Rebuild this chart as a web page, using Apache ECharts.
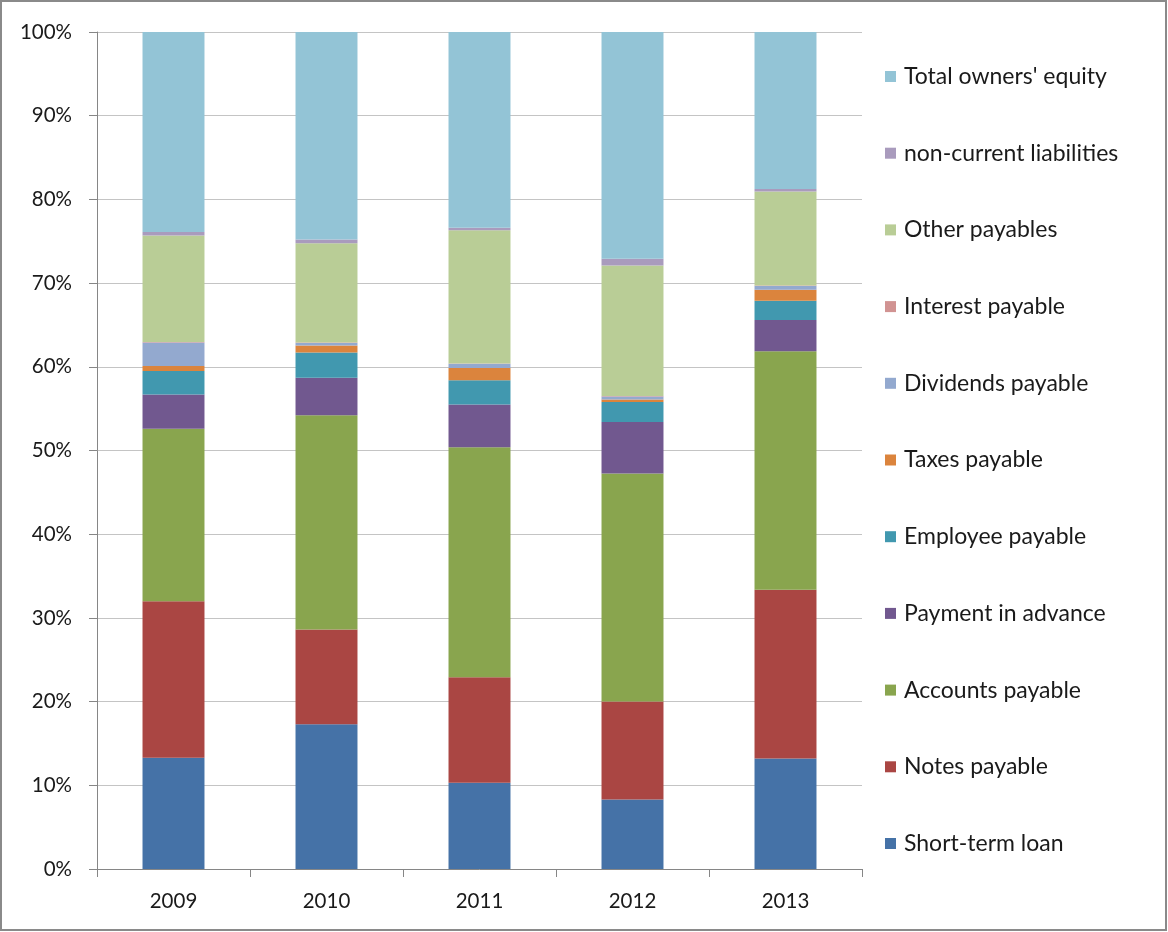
<!DOCTYPE html>
<html>
<head>
<meta charset="utf-8">
<title>Liabilities and equity structure, 2009-2013</title>
<script src="https://cdn.jsdelivr.net/npm/echarts@6/dist/echarts.min.js"></script>
<style>
  html, body { margin: 0; padding: 0; background: #ffffff; }
  #chart { width: 1168px; height: 932px; }
</style>
</head>
<body>
<div id="chart"></div>
<script>
// Share of total liabilities and owners' equity, in percent
const years = ['2009', '2010', '2011', '2012', '2013'];

const shortTermLoan      = [13.3, 17.3, 10.3, 8.3, 13.2];
const notesPayable       = [18.7, 11.3, 12.6, 11.7, 20.15];
const accountsPayable    = [20.6, 25.6, 27.5, 27.25, 28.5];
const paymentInAdvance   = [4.1, 4.5, 5.1, 6.15, 3.75];
const employeePayable    = [2.8, 3.0, 2.9, 2.4, 2.3];
const taxesPayable       = [0.6, 0.85, 1.45, 0.3, 1.3];
const dividendsPayable   = [2.8, 0.3, 0.5, 0.35, 0.45];
const interestPayable    = [0.05, 0.05, 0.05, 0.05, 0.05];
const otherPayables      = [12.75, 11.85, 15.9, 15.6, 11.25];
const nonCurrentLiab     = [0.4, 0.45, 0.3, 0.8, 0.3];
const ownersEquity       = [23.9, 24.8, 23.4, 27.1, 18.75];

const yTicks = [0, 10, 20, 30, 40, 50, 60, 70, 80, 90, 100];

const seriesDefs = [
  ['Short-term loan', shortTermLoan, '#4572A7'],
  ['Notes payable', notesPayable, '#AA4643'],
  ['Accounts payable', accountsPayable, '#89A54E'],
  ['Payment in advance', paymentInAdvance, '#71588F'],
  ['Employee payable', employeePayable, '#4198AF'],
  ['Taxes payable', taxesPayable, '#DB843D'],
  ['Dividends payable', dividendsPayable, '#93A9CF'],
  ['Interest payable', interestPayable, '#D19392'],
  ['Other payables', otherPayables, '#B9CD96'],
  ['non-current liabilities', nonCurrentLiab, '#A99BBD'],
  ["Total owners' equity", ownersEquity, '#93C4D6']
];

const FONT = 'Lato, "Open Sans", "Liberation Sans", sans-serif';

const chart = echarts.init(document.getElementById('chart'), null, { renderer: 'canvas' });

chart.setOption({
  animation: false,
  backgroundColor: '#ffffff',
  textStyle: { fontFamily: FONT },
  graphic: [{
    type: 'rect',
    shape: { x: 1, y: 1, width: 1165, height: 929 },
    style: { fill: 'none', stroke: '#8a8a8a', lineWidth: 2 },
    silent: true
  }],
  grid: { left: 97, top: 32, right: 306, bottom: 63, containLabel: false },
  legend: {
    orient: 'vertical',
    left: 885,
    top: 65,
    padding: 0,
    itemWidth: 11,
    itemHeight: 11,
    itemGap: 53.7,
    icon: 'rect',
    data: seriesDefs.map(d => d[0]).reverse(),
    textStyle: { fontFamily: FONT, fontSize: 23, lineHeight: 20, color: '#1a1a1a', padding: [0, 0, 0, 3] }
  },
  xAxis: {
    type: 'category',
    data: years,
    axisLine: { lineStyle: { color: '#868686', width: 1 } },
    axisTick: { show: true, length: 8, lineStyle: { color: '#868686' } },
    axisLabel: { fontFamily: FONT, fontSize: 20.5, color: '#1a1a1a', margin: 22 }
  },
  yAxis: {
    type: 'value',
    min: yTicks[0],
    max: yTicks[yTicks.length - 1],
    interval: 10,
    axisLine: { show: true, lineStyle: { color: '#868686', width: 1 } },
    axisTick: { show: true, length: 8, lineStyle: { color: '#868686' } },
    splitLine: { show: true, lineStyle: { color: '#c4c4c4', width: 1 } },
    axisLabel: { fontFamily: FONT, fontSize: 20.5, color: '#1a1a1a', margin: 25, formatter: '{value}%' }
  },
  series: seriesDefs.map(([name, values, color]) => ({
    name: name,
    type: 'bar',
    stack: 'total',
    barWidth: '40.5%',
    data: values,
    itemStyle: { color: color },
    emphasis: { disabled: true }
  }))
});
</script>
</body>
</html>
